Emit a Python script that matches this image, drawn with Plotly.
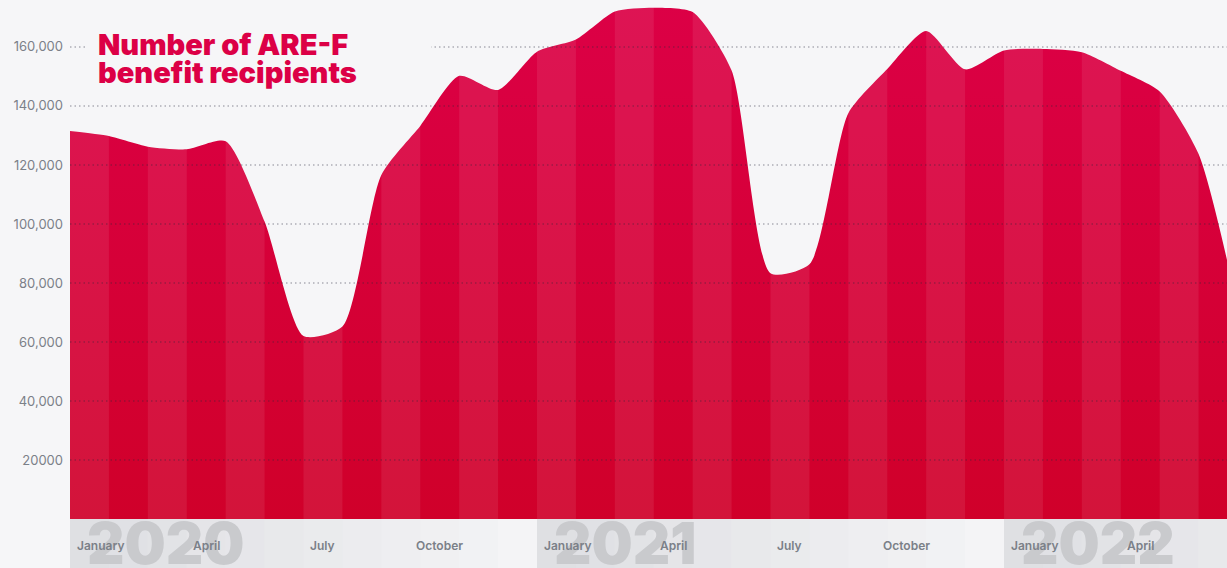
import plotly.graph_objects as go

# Monthly number of ARE-F benefit recipients, January 2020 onwards
months = list(range(31))
recipients = [
    131500, 129800, 126200, 125300, 128000, 100800, 62000, 65200,
    116600, 133200, 150200, 145400, 158400, 162500, 172000, 173300,
    171800, 152000, 83300, 86300, 137500, 152500, 165400, 152400,
    158800, 159300, 158200, 151900, 144900, 123700, 72000,
]

tick_values = [20000, 40000, 60000, 80000, 100000, 120000, 140000, 160000]
tick_labels = ["20000", "40,000", "60,000", "80,000", "100,000", "120,000", "140,000", "160,000"]

month_labels = ["January", "April", "July", "October"] * 3
month_label_pos = [0, 3, 6, 9, 12, 15, 18, 21, 24, 27, 30, 33]
years = ["2020", "2021", "2022"]
year_start = [0, 12, 24]

BG = "#f6f6f8"
RED_TOP = "#dc0046"
RED_BOTTOM = "#d0002a"
GREY_TEXT = "#7b8088"
X_MAX = 29.73
Y_MAX = 175900

fig = go.Figure()
fig.add_trace(go.Scatter(
    x=months,
    y=recipients,
    mode="lines",
    line=dict(shape="spline", smoothing=0.65, width=0, color=RED_TOP),
    fill="tozeroy",
    fillgradient=dict(
        type="vertical",
        colorscale=[[0, RED_BOTTOM], [1, RED_TOP]],
        start=0,
        stop=175000,
    ),
    hoverinfo="skip",
))

shapes = []
# alternating lighter monthly stripes
for k in range(0, 30, 2):
    shapes.append(dict(
        type="rect", xref="x", yref="y", x0=k, x1=k + 1, y0=0, y1=Y_MAX,
        fillcolor="rgba(255,255,255,0.08)", line=dict(width=0), layer="above",
    ))
# dotted horizontal gridlines drawn over the area
for v in tick_values:
    shapes.append(dict(
        type="line", xref="paper", yref="y", x0=0, x1=1, y0=v, y1=v,
        line=dict(color="rgba(40,40,60,0.35)", width=1.5, dash="1.5px,3px"),
        layer="above",
    ))
# backdrop behind the title
shapes.append(dict(
    type="rect", xref="x", yref="y", x0=0.44, x1=9.28, y0=152000, y1=168000,
    fillcolor=BG, line=dict(width=0), layer="above",
))
# fading year bands under the axis
for ys in year_start:
    for i in range(12):
        a = 0.42 * (1 - i / 12)
        shapes.append(dict(
            type="rect", xref="x", yref="paper", x0=ys + i, x1=ys + i + 1,
            y0=-0.1, y1=0,
            fillcolor=f"rgba(190,192,198,{a:.3f})", line=dict(width=0), layer="below",
        ))

annotations = []
for ys, yr in zip(year_start, years):
    annotations.append(dict(
        text=yr, xref="x", yref="paper", x=ys + 0.38, y=0.026, xanchor="left", yanchor="top",
        showarrow=False, font=dict(family="Inter", size=58, color="#c9cacd", weight=900),
    ))
for pos, lab in zip(month_label_pos, month_labels):
    if lab == "January":
        ax, xa = pos + 0.13, "left"
    else:
        ax, xa = pos + 0.5, "center"
    annotations.append(dict(
        text=lab, xref="x", yref="paper", x=ax, y=-0.052, xanchor=xa, yanchor="middle",
        showarrow=False, font=dict(family="Inter", size=12, color=GREY_TEXT, weight=600),
    ))
for line_text, yv in [("Number of ARE-F", 160800), ("benefit recipients", 151300)]:
    annotations.append(dict(
        text=line_text, xref="x", yref="y", x=0.66, y=yv, xanchor="left", yanchor="middle",
        showarrow=False, font=dict(family="Inter", size=29, color=RED_TOP, weight=900),
    ))

fig.update_layout(
    width=1227,
    height=568,
    margin=dict(l=70, r=0, t=0, b=49),
    paper_bgcolor=BG,
    plot_bgcolor=BG,
    showlegend=False,
    shapes=shapes,
    annotations=annotations,
    xaxis=dict(range=[0, X_MAX], showgrid=False, zeroline=False, showticklabels=False,
               showline=False, fixedrange=True),
    yaxis=dict(range=[0, Y_MAX], showgrid=False, zeroline=False, tickmode="array",
               tickvals=tick_values, ticktext=tick_labels, ticks="",
               ticklabelstandoff=6,
               tickfont=dict(family="Inter", size=13, color=GREY_TEXT), fixedrange=True),
)

fig.write_html("out.html", config={"displayModeBar": False})
